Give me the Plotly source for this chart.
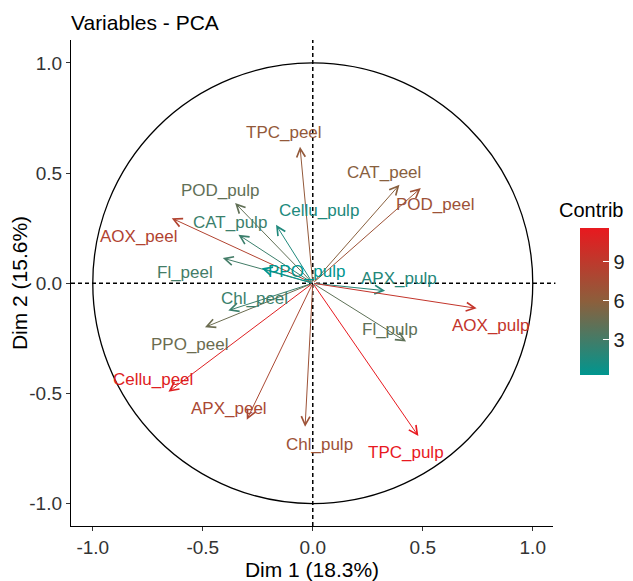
import plotly.graph_objects as go
from plotly.colors import sample_colorscale

# ---- data ----
variables = ["TPC_peel", "CAT_peel", "POD_peel", "POD_pulp", "CAT_pulp", "Cellu_pulp",
             "AOX_peel", "Fl_peel", "PPO_pulp", "APX_pulp", "Chl_peel", "PPO_peel",
             "Cellu_peel", "APX_peel", "Chl_pulp", "TPC_pulp", "AOX_pulp", "Fl_pulp"]
dim1 = [-0.058, 0.394, 0.491, -0.353, -0.338, -0.167,
        -0.641, -0.409, -0.232, 0.329, -0.384, -0.490,
        -0.656, -0.300, -0.035, 0.480, 0.745, 0.424]
dim2 = [0.620, 0.447, 0.432, 0.364, 0.220, 0.265,
        0.295, 0.114, 0.068, -0.034, -0.124, -0.200,
        -0.493, -0.620, -0.652, -0.694, -0.114, -0.265]
contrib = [6.4, 5.8, 7.0, 4.2, 2.7, 1.6,
           8.2, 3.0, 0.3, 1.8, 2.7, 4.6,
           11.0, 7.8, 7.0, 11.6, 9.3, 4.1]
# label positions (repelled text placement)
label_x = [-0.130, 0.326, 0.555, -0.423, -0.377, 0.029,
           -0.790, -0.580, -0.025, 0.391, -0.264, -0.560,
           -0.728, -0.382, 0.032, 0.423, 0.812, 0.351]
label_y = [0.683, 0.503, 0.356, 0.421, 0.275, 0.330,
           0.212, 0.048, 0.053, 0.020, -0.068, -0.280,
           -0.436, -0.568, -0.730, -0.768, -0.190, -0.208]
tick_vals = [-1.0, -0.5, 0.0, 0.5, 1.0]
tick_text = ["-1.0", "-0.5", "0.0", "0.5", "1.0"]
cbar_ticks = [3, 6, 9]

colorscale = [[0.0, "#00968F"], [0.5, "#8C5F3C"], [1.0, "#E8191F"]]
cmin, cmax = min(contrib), max(contrib)
cols = sample_colorscale(colorscale, [(c - cmin) / (cmax - cmin) for c in contrib])

FONT = "Liberation Sans, Arial, sans-serif"

# the page body adds an 8px offset, so the figure is 8px smaller on each axis
W, H = 625, 573

fig = go.Figure()

# invisible trace carrying the colour bar
fig.add_trace(go.Scatter(
    x=dim1, y=dim2, mode="markers", hoverinfo="skip", showlegend=False,
    marker=dict(size=1, opacity=0, color=contrib, colorscale=colorscale,
                cmin=cmin, cmax=cmax, showscale=True,
                colorbar=dict(
                    thickness=29, thicknessmode="pixels",
                    len=147, lenmode="pixels",
                    x=1.057, xanchor="left", xpad=0,
                    y=0.462, yanchor="middle", ypad=0,
                    tickvals=cbar_ticks, ticks="inside", ticklen=6,
                    tickcolor="white", tickwidth=1,
                    tickfont=dict(size=20, family=FONT, color="#222"),
                    outlinewidth=0)),
))

shapes = [
    dict(type="circle", xref="x", yref="y", x0=-1, y0=-1, x1=1, y1=1,
         line=dict(color="black", width=1.3)),
    dict(type="line", xref="x", yref="paper", x0=0, x1=0, y0=0, y1=1,
         line=dict(color="black", width=1.5, dash="4px,3px")),
    dict(type="line", xref="paper", yref="y", x0=0, x1=1.005, y0=0, y1=0,
         line=dict(color="black", width=1.5, dash="4px,3px")),
]

annotations = []
for v, x, y, c in zip(variables, dim1, dim2, cols):
    annotations.append(dict(
        x=x, y=y, xref="x", yref="y", ax=0, ay=0, axref="x", ayref="y",
        text="", showarrow=True, arrowhead=5, arrowsize=1.7, arrowwidth=1,
        arrowcolor=c, standoff=0, startstandoff=0))
for v, lx, ly, c in zip(variables, label_x, label_y, cols):
    annotations.append(dict(
        x=lx, y=ly, xref="x", yref="y", text=v, showarrow=False,
        font=dict(size=17, family=FONT, color=c)))
annotations.append(dict(
    x=1.010, y=0.650, xref="paper", yref="paper", xanchor="left", yanchor="middle",
    text="Contrib", showarrow=False, borderpad=0,
    font=dict(size=20, family=FONT, color="black")))

fig.update_layout(
    width=W, height=H,
    margin=dict(l=63, r=80, t=32, b=55, autoexpand=False),
    paper_bgcolor="white", plot_bgcolor="white",
    title=dict(text="Variables - PCA", x=0, xref="paper", xanchor="left",
               y=1 - 14.5 / H, yref="container", yanchor="middle",
               font=dict(size=21, family=FONT, color="black")),
    xaxis=dict(range=[-1.099, 1.092], showgrid=False, zeroline=False,
               showline=True, linecolor="black", linewidth=1.3,
               ticks="outside", ticklen=4, tickcolor="#333", tickwidth=1.2,
               tickvals=tick_vals, ticktext=tick_text,
               tickfont=dict(size=19, family=FONT, color="#333"),
               title=dict(text="Dim 1 (18.3%)", standoff=8,
                          font=dict(size=21, family=FONT, color="black"))),
    yaxis=dict(range=[-1.102, 1.104], showgrid=False, zeroline=False,
               showline=True, linecolor="black", linewidth=1.3,
               ticks="outside", ticklen=4, tickcolor="#333", tickwidth=1.2,
               tickvals=tick_vals, ticktext=tick_text,
               tickfont=dict(size=19, family=FONT, color="#333"),
               title=dict(text="Dim 2 (15.6%)", standoff=6,
                          font=dict(size=21, family=FONT, color="black"))),
    shapes=shapes,
    annotations=annotations,
)

fig.write_html("out.html")
